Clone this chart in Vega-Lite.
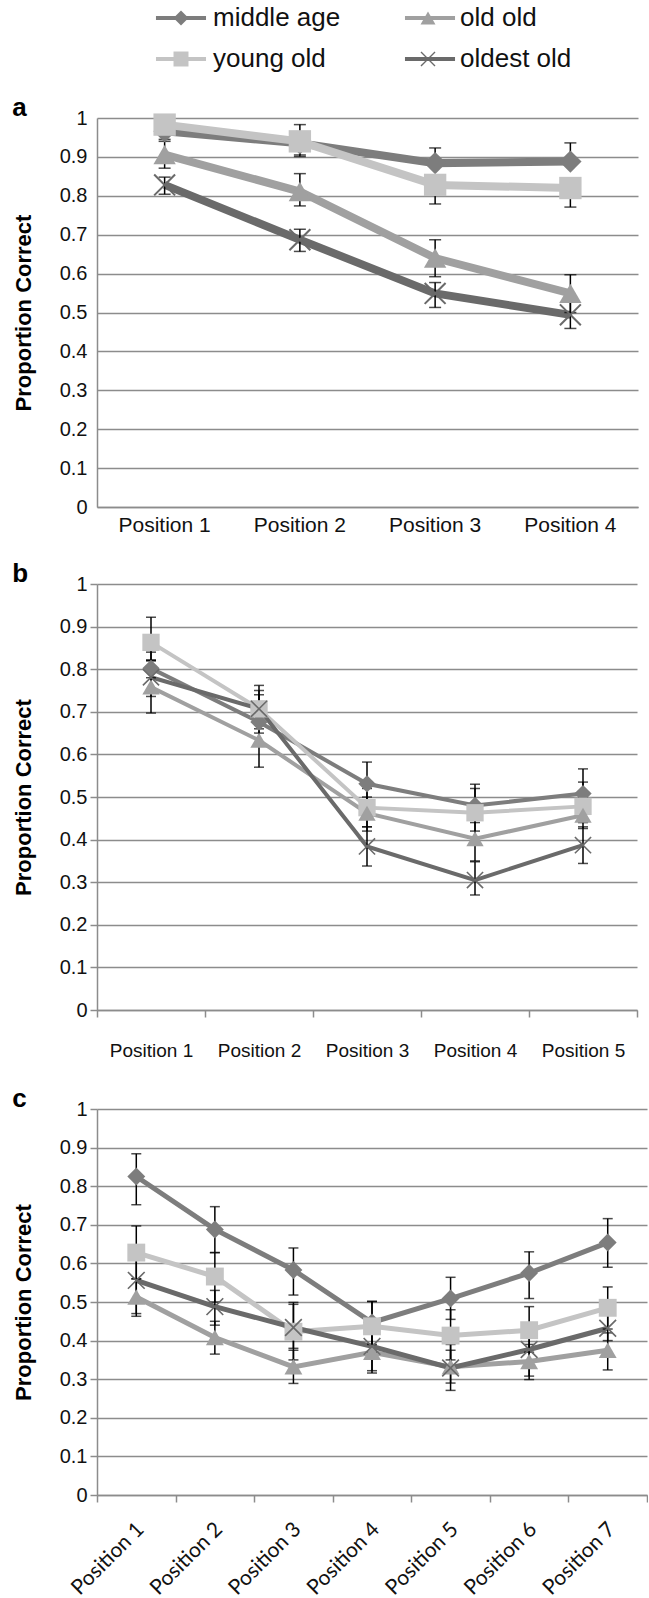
{
  "$schema": "https://vega.github.io/schema/vega-lite/v6.json",
  "background": "white",
  "padding": {"left": 12, "top": 5, "right": 0, "bottom": 0},
  "spacing": 26,
  "config": {
    "font": "Liberation Sans",
    "view": {"stroke": null},
    "axis": {
      "domainColor": "#8c8c8c", "domainWidth": 1.5,
      "gridColor": "#8c8c8c", "gridWidth": 1.5,
      "tickColor": "#8c8c8c", "tickWidth": 1.5,
      "labelColor": "#111111", "labelFont": "Liberation Sans",
      "titleFont": "Liberation Sans", "titleFontWeight": "bold", "titleColor": "#000000"
    },
    "legend": {
      "title": null, "padding": 0,
      "labelFont": "Liberation Sans", "labelFontSize": 26, "labelColor": "#111111", "labelLimit": 0
    },
    "title": {"anchor": "start", "frame": "bounds", "fontSize": 26, "fontWeight": "bold", "font": "Liberation Sans", "color": "#000000", "offset": 0, "baseline": "alphabetic", "dy": 17}
  },
  "datasets": {
    "a": [
      {"pos": "Position 1", "series": "middle age", "y": 0.966, "lo": 0.945, "hi": 0.985},
      {"pos": "Position 2", "series": "middle age", "y": 0.935, "lo": 0.901, "hi": 0.983},
      {"pos": "Position 3", "series": "middle age", "y": 0.884, "lo": 0.884, "hi": 0.923},
      {"pos": "Position 4", "series": "middle age", "y": 0.888, "lo": 0.888, "hi": 0.936},
      {"pos": "Position 1", "series": "young old", "y": 0.983, "lo": 0.96, "hi": 0.983},
      {"pos": "Position 2", "series": "young old", "y": 0.94, "lo": 0.905, "hi": 0.94},
      {"pos": "Position 3", "series": "young old", "y": 0.828, "lo": 0.779, "hi": 0.828},
      {"pos": "Position 4", "series": "young old", "y": 0.82, "lo": 0.771, "hi": 0.82},
      {"pos": "Position 1", "series": "old old", "y": 0.906, "lo": 0.871, "hi": 0.94},
      {"pos": "Position 2", "series": "old old", "y": 0.811, "lo": 0.774, "hi": 0.857},
      {"pos": "Position 3", "series": "old old", "y": 0.64, "lo": 0.592, "hi": 0.687},
      {"pos": "Position 4", "series": "old old", "y": 0.549, "lo": 0.5, "hi": 0.597},
      {"pos": "Position 1", "series": "oldest old", "y": 0.828, "lo": 0.804, "hi": 0.848},
      {"pos": "Position 2", "series": "oldest old", "y": 0.687, "lo": 0.657, "hi": 0.714},
      {"pos": "Position 3", "series": "oldest old", "y": 0.549, "lo": 0.513, "hi": 0.577},
      {"pos": "Position 4", "series": "oldest old", "y": 0.494, "lo": 0.459, "hi": 0.53}
    ],
    "b": [
      {"pos": "Position 1", "series": "middle age", "y": 0.802, "lo": 0.78, "hi": 0.84},
      {"pos": "Position 2", "series": "middle age", "y": 0.676, "lo": 0.65, "hi": 0.74},
      {"pos": "Position 3", "series": "middle age", "y": 0.531, "lo": 0.49, "hi": 0.582},
      {"pos": "Position 4", "series": "middle age", "y": 0.48, "lo": 0.44, "hi": 0.53},
      {"pos": "Position 5", "series": "middle age", "y": 0.508, "lo": 0.47, "hi": 0.566},
      {"pos": "Position 1", "series": "young old", "y": 0.863, "lo": 0.822, "hi": 0.922},
      {"pos": "Position 2", "series": "young old", "y": 0.707, "lo": 0.66, "hi": 0.762},
      {"pos": "Position 3", "series": "young old", "y": 0.475, "lo": 0.43, "hi": 0.52},
      {"pos": "Position 4", "series": "young old", "y": 0.463, "lo": 0.42, "hi": 0.52},
      {"pos": "Position 5", "series": "young old", "y": 0.478, "lo": 0.44, "hi": 0.535},
      {"pos": "Position 1", "series": "old old", "y": 0.758, "lo": 0.697, "hi": 0.82},
      {"pos": "Position 2", "series": "old old", "y": 0.633, "lo": 0.57, "hi": 0.7},
      {"pos": "Position 3", "series": "old old", "y": 0.462, "lo": 0.42, "hi": 0.5},
      {"pos": "Position 4", "series": "old old", "y": 0.402, "lo": 0.35, "hi": 0.45},
      {"pos": "Position 5", "series": "old old", "y": 0.457, "lo": 0.426, "hi": 0.5},
      {"pos": "Position 1", "series": "oldest old", "y": 0.781, "lo": 0.736, "hi": 0.82},
      {"pos": "Position 2", "series": "oldest old", "y": 0.707, "lo": 0.67, "hi": 0.75},
      {"pos": "Position 3", "series": "oldest old", "y": 0.384, "lo": 0.338, "hi": 0.43},
      {"pos": "Position 4", "series": "oldest old", "y": 0.305, "lo": 0.27, "hi": 0.348},
      {"pos": "Position 5", "series": "oldest old", "y": 0.387, "lo": 0.344, "hi": 0.43}
    ],
    "c": [
      {"pos": "Position 1", "series": "middle age", "y": 0.825, "lo": 0.752, "hi": 0.884},
      {"pos": "Position 2", "series": "middle age", "y": 0.688, "lo": 0.628, "hi": 0.747},
      {"pos": "Position 3", "series": "middle age", "y": 0.583, "lo": 0.518, "hi": 0.64},
      {"pos": "Position 4", "series": "middle age", "y": 0.447, "lo": 0.39, "hi": 0.501},
      {"pos": "Position 5", "series": "middle age", "y": 0.509, "lo": 0.455, "hi": 0.564},
      {"pos": "Position 6", "series": "middle age", "y": 0.575, "lo": 0.509, "hi": 0.63},
      {"pos": "Position 7", "series": "middle age", "y": 0.654, "lo": 0.59, "hi": 0.716},
      {"pos": "Position 1", "series": "young old", "y": 0.628, "lo": 0.56, "hi": 0.697},
      {"pos": "Position 2", "series": "young old", "y": 0.566, "lo": 0.5, "hi": 0.628},
      {"pos": "Position 3", "series": "young old", "y": 0.423, "lo": 0.35, "hi": 0.494},
      {"pos": "Position 4", "series": "young old", "y": 0.437, "lo": 0.37, "hi": 0.502},
      {"pos": "Position 5", "series": "young old", "y": 0.413, "lo": 0.35, "hi": 0.48},
      {"pos": "Position 6", "series": "young old", "y": 0.427, "lo": 0.37, "hi": 0.488},
      {"pos": "Position 7", "series": "young old", "y": 0.485, "lo": 0.43, "hi": 0.539},
      {"pos": "Position 1", "series": "old old", "y": 0.513, "lo": 0.463, "hi": 0.56},
      {"pos": "Position 2", "series": "old old", "y": 0.408, "lo": 0.365, "hi": 0.45},
      {"pos": "Position 3", "series": "old old", "y": 0.332, "lo": 0.289, "hi": 0.375},
      {"pos": "Position 4", "series": "old old", "y": 0.37, "lo": 0.316, "hi": 0.42},
      {"pos": "Position 5", "series": "old old", "y": 0.332, "lo": 0.29, "hi": 0.375},
      {"pos": "Position 6", "series": "old old", "y": 0.346, "lo": 0.299, "hi": 0.39},
      {"pos": "Position 7", "series": "old old", "y": 0.375, "lo": 0.324, "hi": 0.42},
      {"pos": "Position 1", "series": "oldest old", "y": 0.556, "lo": 0.47, "hi": 0.64},
      {"pos": "Position 2", "series": "oldest old", "y": 0.488, "lo": 0.44, "hi": 0.53},
      {"pos": "Position 3", "series": "oldest old", "y": 0.434, "lo": 0.38, "hi": 0.499},
      {"pos": "Position 4", "series": "oldest old", "y": 0.385, "lo": 0.322, "hi": 0.45},
      {"pos": "Position 5", "series": "oldest old", "y": 0.329, "lo": 0.271, "hi": 0.39},
      {"pos": "Position 6", "series": "oldest old", "y": 0.377, "lo": 0.308, "hi": 0.44},
      {"pos": "Position 7", "series": "oldest old", "y": 0.432, "lo": 0.4, "hi": 0.47}
    ]
  },
  "vconcat": [
    {
      "data": {"name": "a"},
      "width": 541, "height": 389,
      "title": {"text": "a"},
      "encoding": {
        "x": {"field": "pos", "type": "nominal", "bandPosition": 0.5,
          "scale": {"type": "band", "paddingInner": 0, "paddingOuter": 0},
          "axis": {"title": null, "labelAngle": 0, "ticks": false, "labelPadding": 7, "labelFontSize": 21, "grid": false}},
        "y": {"field": "y", "type": "quantitative",
          "scale": {"domain": [0, 1], "nice": false},
          "axis": {"title": "Proportion Correct", "values": [0, 0.1, 0.2, 0.3, 0.4, 0.5, 0.6, 0.7, 0.8, 0.9, 1], "format": "~g", "labelFontSize": 20, "titleFontSize": 22, "tickSize": 7, "tickOpacity": 0, "labelPadding": 3, "titlePadding": 24, "grid": true}}
      },
      "layer": [
        {"mark": {"type": "line", "strokeWidth": 8},
          "encoding": {"stroke": {"field": "series", "type": "nominal",
            "scale": {"domain": ["middle age", "young old", "old old", "oldest old"], "range": ["#7d7d7d", "#c4c4c4", "#a0a0a0", "#6a6a6a"]},
            "legend": {"orient": "none", "legendX": 71, "legendY": -113, "direction": "vertical", "columns": 2,
              "symbolType": "M-4.55,0H4.55", "symbolSize": 121, "symbolStrokeWidth": 4, "labelOpacity": 0,
              "labelOffset": 19, "columnPadding": 55, "rowPadding": 15}}}},
        {"mark": {"type": "rule", "strokeWidth": 1.5, "color": "#000000"},
          "encoding": {"y": {"field": "lo", "type": "quantitative"}, "y2": {"field": "hi"}}},
        {"mark": {"type": "tick", "orient": "horizontal", "size": 12, "thickness": 1.5, "color": "#000000"},
          "encoding": {"y": {"field": "lo", "type": "quantitative"}}},
        {"mark": {"type": "tick", "orient": "horizontal", "size": 12, "thickness": 1.5, "color": "#000000"},
          "encoding": {"y": {"field": "hi", "type": "quantitative"}}},
        {"mark": {"type": "point", "filled": true, "opacity": 1, "size": 500},
          "encoding": {
            "color": {"field": "series", "type": "nominal",
              "scale": {"domain": ["middle age", "old old", "young old", "oldest old"], "range": ["#7d7d7d", "#a0a0a0", "#c4c4c4", "#6a6a6a"]},
              "legend": {"orient": "none", "legendX": 71, "legendY": -113, "direction": "horizontal", "columns": 2,
                "symbolSize": 225, "symbolStrokeWidth": 0, "symbolOpacity": 1,
                "labelOffset": 19, "columnPadding": 74, "rowPadding": 15}},
            "shape": {"field": "series", "type": "nominal", "legend": null,
              "scale": {"domain": ["middle age", "old old", "young old", "oldest old"], "range": ["diamond", "triangle-up", "square", "M-1,-0.87L-0.87,-1L0,-0.13L0.87,-1L1,-0.87L0.13,0L1,0.87L0.87,1L0,0.13L-0.87,1L-1,0.87L-0.13,0Z"]}}}}
      ]
    },
    {
      "data": {"name": "b"},
      "width": 540, "height": 426,
      "title": {"text": "b"},
      "encoding": {
        "x": {"field": "pos", "type": "nominal", "bandPosition": 0.5,
          "scale": {"type": "band", "paddingInner": 0, "paddingOuter": 0},
          "axis": {"title": null, "labelAngle": 0, "ticks": true, "tickBand": "extent", "tickSize": 7, "labelPadding": 24, "labelFontSize": 19, "grid": false}},
        "y": {"field": "y", "type": "quantitative",
          "scale": {"domain": [0, 1], "nice": false},
          "axis": {"title": "Proportion Correct", "values": [0, 0.1, 0.2, 0.3, 0.4, 0.5, 0.6, 0.7, 0.8, 0.9, 1], "format": "~g", "labelFontSize": 20, "titleFontSize": 22, "tickSize": 7, "labelPadding": 3, "titlePadding": 24, "grid": true}}
      },
      "layer": [
        {"mark": {"type": "line", "strokeWidth": 4},
          "encoding": {"stroke": {"field": "series", "type": "nominal", "legend": null}}},
        {"mark": {"type": "rule", "strokeWidth": 1.5, "color": "#000000"},
          "encoding": {"y": {"field": "lo", "type": "quantitative"}, "y2": {"field": "hi"}}},
        {"mark": {"type": "tick", "orient": "horizontal", "size": 10, "thickness": 1.5, "color": "#000000"},
          "encoding": {"y": {"field": "lo", "type": "quantitative"}}},
        {"mark": {"type": "tick", "orient": "horizontal", "size": 10, "thickness": 1.5, "color": "#000000"},
          "encoding": {"y": {"field": "hi", "type": "quantitative"}}},
        {"mark": {"type": "point", "filled": true, "opacity": 1, "size": 300},
          "encoding": {
            "color": {"field": "series", "type": "nominal", "legend": null},
            "shape": {"field": "series", "type": "nominal", "legend": null}}}
      ]
    },
    {
      "data": {"name": "c"},
      "width": 550, "height": 386,
      "title": {"text": "c"},
      "encoding": {
        "x": {"field": "pos", "type": "nominal", "bandPosition": 0.5,
          "scale": {"type": "band", "paddingInner": 0, "paddingOuter": 0},
          "axis": {"title": null, "labelAngle": -45, "labelAlign": "right", "labelBaseline": "middle", "ticks": true, "tickBand": "extent", "tickSize": 7, "labelPadding": 24, "labelOffset": 4, "labelFont": "Lato", "labelFontSize": 21, "grid": false}},
        "y": {"field": "y", "type": "quantitative",
          "scale": {"domain": [0, 1], "nice": false},
          "axis": {"title": "Proportion Correct", "values": [0, 0.1, 0.2, 0.3, 0.4, 0.5, 0.6, 0.7, 0.8, 0.9, 1], "format": "~g", "labelFontSize": 20, "titleFontSize": 22, "tickSize": 7, "labelPadding": 3, "titlePadding": 24, "grid": true}}
      },
      "layer": [
        {"mark": {"type": "line", "strokeWidth": 5},
          "encoding": {"stroke": {"field": "series", "type": "nominal", "legend": null}}},
        {"mark": {"type": "rule", "strokeWidth": 1.5, "color": "#000000"},
          "encoding": {"y": {"field": "lo", "type": "quantitative"}, "y2": {"field": "hi"}}},
        {"mark": {"type": "tick", "orient": "horizontal", "size": 10, "thickness": 1.5, "color": "#000000"},
          "encoding": {"y": {"field": "lo", "type": "quantitative"}}},
        {"mark": {"type": "tick", "orient": "horizontal", "size": 10, "thickness": 1.5, "color": "#000000"},
          "encoding": {"y": {"field": "hi", "type": "quantitative"}}},
        {"mark": {"type": "point", "filled": true, "opacity": 1, "size": 320},
          "encoding": {
            "color": {"field": "series", "type": "nominal", "legend": null},
            "shape": {"field": "series", "type": "nominal", "legend": null}}}
      ]
    }
  ]
}
